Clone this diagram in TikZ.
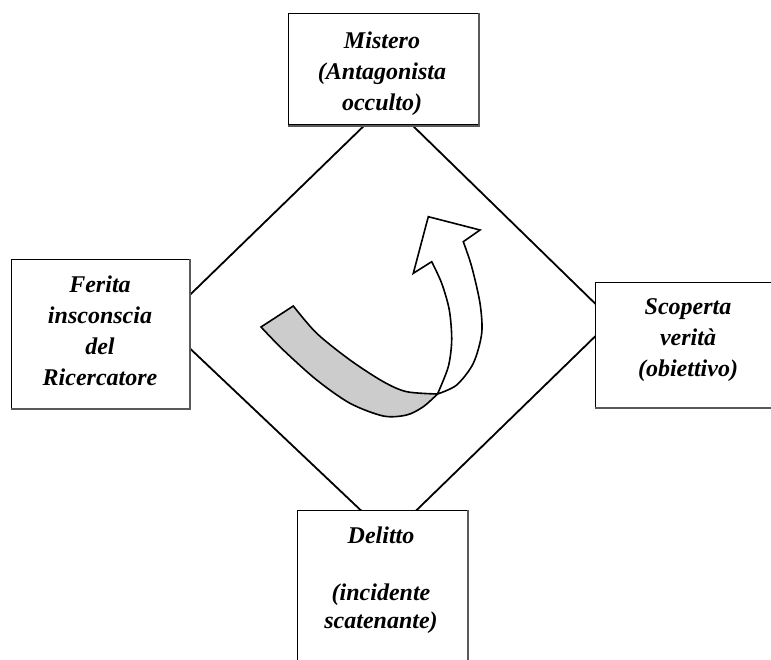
\documentclass[tikz,border=0pt]{standalone}
\usepackage{fontspec}
\setmainfont{Liberation Serif}
\begin{document}
\begin{tikzpicture}[x=1pt,y=-1pt,
  boxst/.style={draw=black, line width=1pt, fill=white, inner sep=0pt, rectangle},
  shadowst/.style={draw=black!65, line width=2pt},
  txt/.style={font=\fontsize{24}{31}\selectfont\bfseries\itshape, align=center, inner sep=0pt},
  edgest/.style={line width=1.8pt},
  ribbon/.style={draw=black, line width=1.6pt, line join=miter}]
\useasboundingbox (0,0) rectangle (771,660);
\fill[white] (0,0) rectangle (771,660);

% diamond
\coordinate (dT) at (388.5,102);
\coordinate (dR) at (612,320);
\coordinate (dB) at (389,537);
\coordinate (dL) at (162,322);
\draw[edgest] (dT) -- (dR) -- (dB) -- (dL) -- cycle;

% boxes
\node[boxst, minimum width=190pt, minimum height=111pt] (topbox) at (383,69.5) {};
\node[boxst, minimum width=178pt, minimum height=148pt] (leftbox) at (100,334) {};
\node[boxst, minimum width=186pt, minimum height=124pt] (rightbox) at (688,345) {};
\node[boxst, minimum width=170pt, minimum height=180pt] (delbox) at (382,600) {};
\foreach \b in {topbox,leftbox,rightbox,delbox}{
  \draw[shadowst] ([xshift=0.5pt]\b.north east) -- ([xshift=0.5pt,yshift=-0.5pt]\b.south east) -- ([yshift=-0.5pt]\b.south west);
}

% texts
\node[txt] (toptxt) at (382,73.5) {Mistero\\(Antagonista\\occulto)};
\node[txt] (lefttxt) at (100,331) {Ferita\\insconscia\\del\\Ricercatore};
\node[txt] (righttxt) at (688,340.5) {Scoperta\\verità\\(obiettivo)};
\node[txt, font=\fontsize{24}{28.5}\selectfont\bfseries\itshape] (deltxt) at (381,580) {Delitto\\[0pt]\mbox{}\\(incidente\\scatenante)};

% curved ribbon arrow
\coordinate (J) at (437.5,394);
\filldraw[ribbon, fill=gray!40] (261,327) -- plot[smooth] coordinates {(293.3,306) (316.7,333.3) (350,360) (383.3,381.7) (406.7,391.7) (437.5,394)}
  -- plot[smooth] coordinates {(437.5,394) (423.3,406.7) (406.7,415) (383.3,416) (350,403.3) (316.7,380) (283.3,350) (261,327)} -- cycle;
\filldraw[ribbon, fill=white] (J) -- plot[smooth] coordinates {(437.5,394) (456.7,385) (473.3,363.3) (481.7,333.3) (480,303.3) (471.7,266.7) (463.3,241.7)}
  -- (480,230) -- (428.3,216.7) -- (413.3,273.3)
  -- plot[smooth] coordinates {(431.7,261.7) (441.7,283.3) (449.3,310) (451.7,340) (448.3,366.7) (437.5,394)} -- cycle;
\end{tikzpicture}
\end{document}
